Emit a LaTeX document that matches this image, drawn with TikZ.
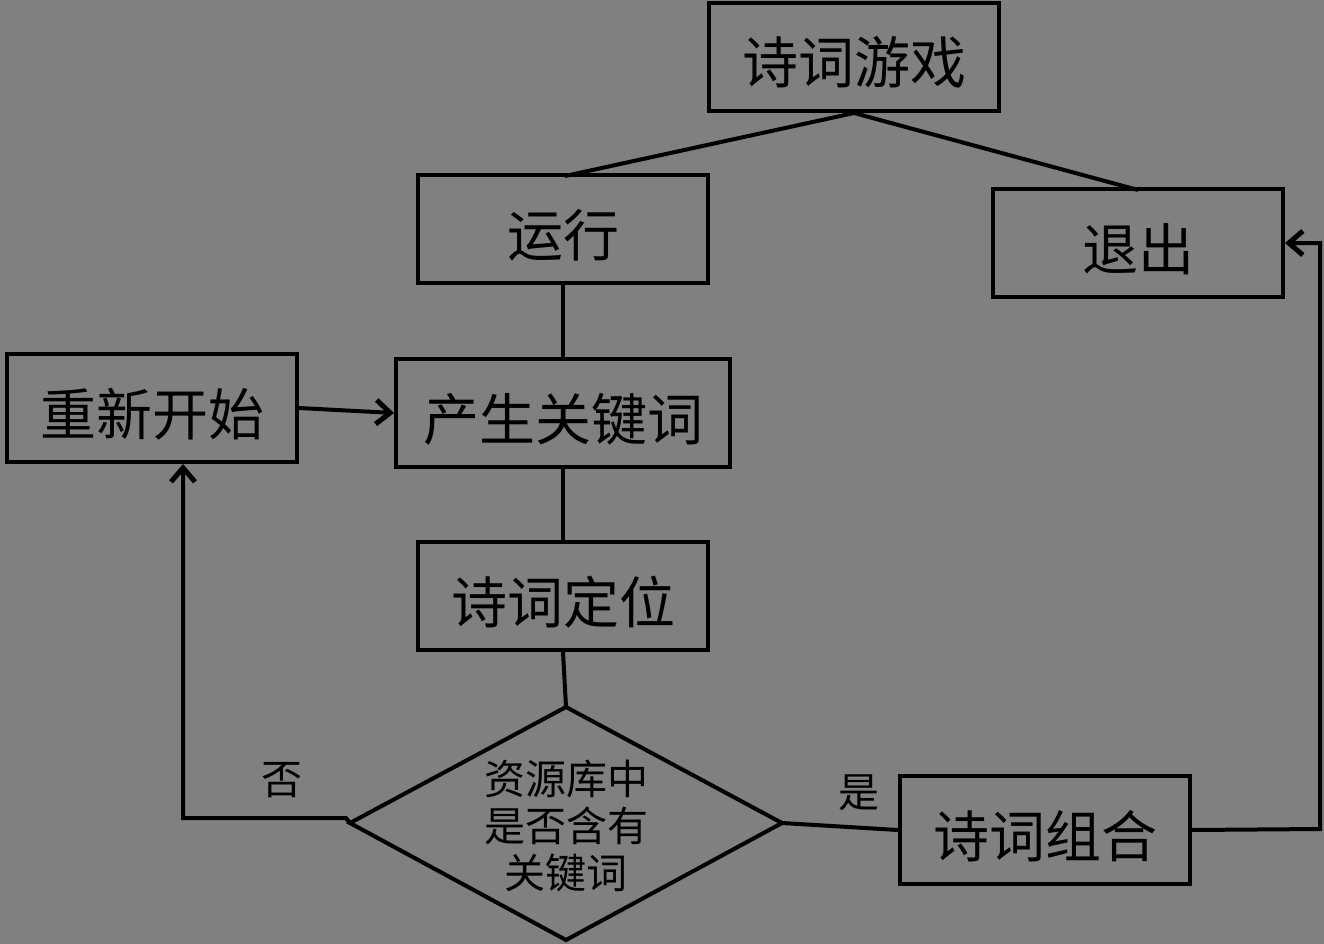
\documentclass[tikz,border=0pt]{standalone}
\usepackage{fontspec}
\newfontfamily\cjk{Noto Sans CJK SC}
\usetikzlibrary{arrows.meta,calc}
\definecolor{bggray}{RGB}{128,128,128}
\tikzset{
  box/.style={draw=black, line width=4pt, minimum width=#1, minimum height=108pt, inner sep=0pt, text height=58pt, text depth=4pt, font=\cjk\fontsize{56}{60}\selectfont},
  box/.default=290pt,
  dec/.style={draw=black, line width=4pt, inner sep=0pt},
  conn/.style={draw=black, line width=4pt},
  arr/.style={conn, -{Straight Barb[length=14pt,width=24pt,line width=5pt]}},
  lbl/.style={font=\cjk\fontsize{41}{46}\selectfont, inner sep=0pt}
}
\begin{document}
\begin{tikzpicture}[x=1pt,y=-1pt]
\fill[bggray] (0,0) rectangle (1324,944);
\useasboundingbox (0,0) rectangle (1324,944);
\node[box] (game) at (854,57) {诗词游戏};
\node[box] (run) at (563,229) {运行};
\node[box] (quit) at (1138,243) {退出};
\node[box] (restart) at (152,408) {重新开始};
\node[box=334pt] (kw) at (563,413) {产生关键词};
\node[box] (locate) at (563,596) {诗词定位};
\node[box] (combine) at (1045,830) {诗词组合};
\coordinate (dT) at (566,707);
\coordinate (dB) at (566,940);
\coordinate (dL) at (350,823);
\coordinate (dR) at (782,823);
\draw[dec] (dT) -- (dR) -- (dB) -- (dL) -- cycle;
\node[lbl, align=center, font=\cjk\fontsize{41}{47}\selectfont] (q) at (566,826) {资源库中\\是否含有\\关键词};
\node[lbl] (no) at (282,780) {否};
\node[lbl] (yes) at (859,793) {是};
\coordinate (gb) at (854,113);
\draw[conn] (gb) -- (565,176);
\draw[conn] (gb) -- (1138,190);
\draw[conn] (run.south) -- (kw.north);
\draw[conn] (kw.south) -- (locate.north);
\draw[conn] (locate.south) -- (dT);
\coordinate (lc) at (183,818);
\draw[arr] (dL) -- (346,818) -- (lc) -- (restart.south -| lc);
\draw[arr] (restart.east) -- (kw.west);
\draw[conn] (dR) -- (combine.west);
\coordinate (rc) at (1320,829);
\draw[arr] (combine.east) -- (rc) -- (quit.east -| rc) -- (quit.east);
\end{tikzpicture}
\end{document}
